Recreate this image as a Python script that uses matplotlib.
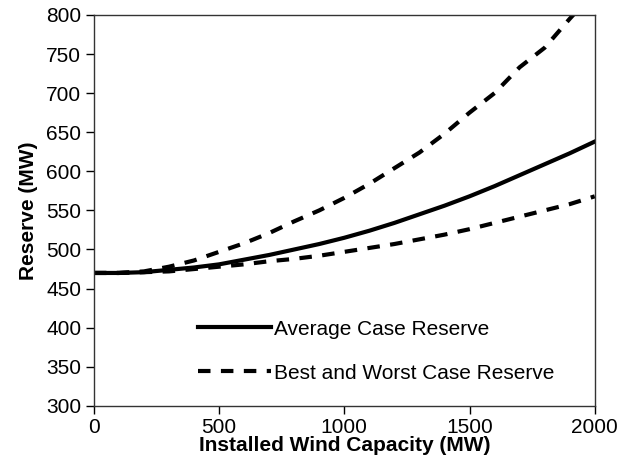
import matplotlib.pyplot as plt
import numpy as np

plt.rcParams['font.family'] = ['Liberation Sans', 'DejaVu Sans']

# Capacidade instalada (MW) e reservas (MW)
capacity = [0, 100, 200, 300, 400, 500, 600, 700, 800, 900, 1000,
            1100, 1200, 1300, 1400, 1500, 1600, 1700, 1800, 1900, 2000]
average = [470, 470, 471, 474, 477, 481, 487, 493, 500, 507, 515,
           524, 534, 545, 556, 568, 581, 595, 609, 623, 638]
worst = [470, 470, 472, 478, 486, 497, 508, 521, 536, 550, 566,
         584, 604, 624, 648, 675, 700, 733, 758, 795, 830]
best = [470, 470, 471, 472, 475, 478, 481, 485, 488, 492, 497,
        502, 507, 513, 519, 526, 534, 542, 550, 558, 568]

fig = plt.figure(figsize=(6.3, 4.66), dpi=100)
ax = fig.add_axes([0.149, 0.129, 0.795, 0.839])

ax.plot(capacity, average, color='black', lw=3, label='Average Case Reserve')
ax.plot(capacity, worst, color='black', lw=3, dashes=(3, 2.5),
        label='Best and Worst Case Reserve')
ax.plot(capacity, best, color='black', lw=3, dashes=(3, 2.5))

ax.set_xlim(0, 2000)
ax.set_ylim(300, 800)
ax.set_xticks([0, 500, 1000, 1500, 2000])
ax.set_yticks(np.arange(300, 801, 50))
ax.tick_params(labelsize=15, direction='out', length=6, width=1, pad=3,
               colors='black')
for s in ax.spines.values():
    s.set_color('#333333')
    s.set_linewidth(1)

ax.set_xlabel('Installed Wind Capacity (MW)', fontsize=15, fontweight='bold',
              labelpad=-1)
ax.set_ylabel('Reserve (MW)', fontsize=15, fontweight='bold', labelpad=6)

ax.legend(loc='center left', bbox_to_anchor=(0.208, 0.14), frameon=False,
          fontsize=15, handlelength=3.5, handletextpad=0.15,
          labelspacing=1.2, borderaxespad=0, borderpad=0)

plt.savefig('out.png', dpi=100)
